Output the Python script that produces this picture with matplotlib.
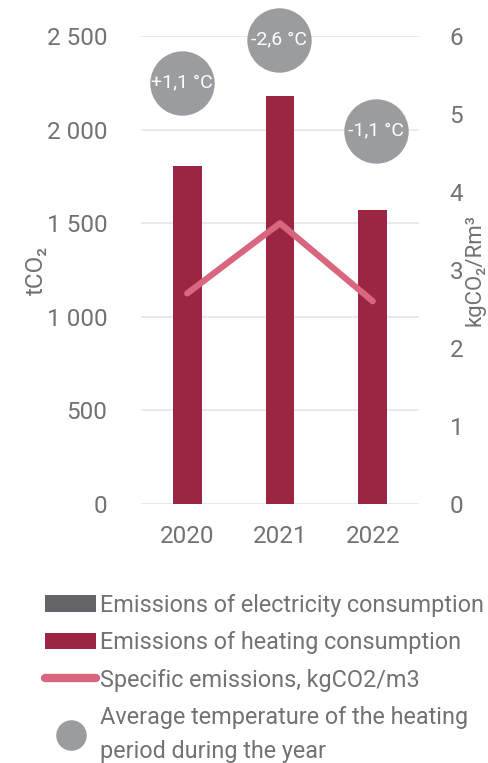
import matplotlib
matplotlib.use("Agg")
import matplotlib.pyplot as plt
from matplotlib.patches import Patch
from matplotlib.lines import Line2D

# data
years = ["2020", "2021", "2022"]
heating_t = [1805, 2180, 1570]          # tCO2, heating consumption
specific_kg = [2.7, 3.6, 2.6]           # kgCO2/Rm3
temp_change = ["+1,1 °C", "-2,6 °C", "-1,1 °C"]

left_ticks = [0, 500, 1000, 1500, 2000, 2500]
left_labels = ["0", "500", "1 000", "1 500", "2 000", "2 500"]
right_ticks = [0, 1, 2, 3, 4, 5, 6]

bar_color = "#9b2542"
elec_color = "#636569"
line_color = "#d9667f"
bubble_color = "#9a9c9f"
text_color = "#707275"
grid_color = "#e8e8e8"

plt.rcParams["font.family"] = ["Roboto", "DejaVu Sans"]
plt.rcParams["font.weight"] = "normal"

fig = plt.figure(figsize=(4.89, 7.63), dpi=100)
ax = fig.add_axes([0.288, 0.3394, 0.569, 0.6134])
ax2 = ax.twinx()

x = list(range(len(years)))
ax.bar(x, heating_t, width=0.31, color=bar_color, zorder=2)
ax.set_xlim(-0.5, 2.5)
ax.set_ylim(0, 2500)
ax.set_yticks(left_ticks)
ax.set_yticklabels(left_labels)
ax.set_xticks(x)
ax.set_xticklabels(years)
ax.grid(axis="y", color=grid_color, linewidth=1.3, zorder=0)
ax.set_axisbelow(True)
ax.tick_params(length=0, labelsize=17.5, labelcolor=text_color, pad=24)
ax.tick_params(axis="x", pad=15)
ax.set_ylabel("tCO₂", fontsize=17.5, color=text_color)
ax.yaxis.set_label_coords(-0.335, 0.5)

ax2.plot(x, specific_kg, color=line_color, linewidth=4.5,
         solid_capstyle="round", solid_joinstyle="round", zorder=3)
ax2.set_ylim(0, 6)
ax2.set_yticks(right_ticks)
ax2.tick_params(length=0, labelsize=17.5, labelcolor=text_color, pad=22)
ax2.set_ylabel("kgCO₂/Rm³", fontsize=16, color=text_color)
ax2.yaxis.set_label_coords(1.165, 0.5)

for a in (ax, ax2):
    for s in a.spines.values():
        s.set_visible(False)

# temperature bubbles above the bars
bubble_x = [-0.06, -0.01, 0.04]
bubble_y = [2250, 2480, 1995]
for i in range(len(years)):
    ax.scatter(x[i] + bubble_x[i], bubble_y[i], s=2150, color=bubble_color,
               zorder=4, clip_on=False, linewidths=0)
    ax.text(x[i] + bubble_x[i], bubble_y[i], temp_change[i], ha="center",
            va="center", fontsize=14, color="white", zorder=5)

handles = [
    Patch(facecolor=elec_color),
    Patch(facecolor=bar_color),
    Line2D([0], [0], color=line_color, linewidth=6, solid_capstyle="round"),
    Line2D([0], [0], marker="o", linestyle="none", markersize=22,
           markerfacecolor=bubble_color, markeredgewidth=0),
]
labels = [
    "Emissions of electricity consumption",
    "Emissions of heating consumption",
    "Specific emissions, kgCO2/m3",
    "Average temperature of the heating\nperiod during the year",
]
leg = fig.legend(handles, labels, loc="upper left", bbox_to_anchor=(0.092, 0.222),
                 frameon=False, fontsize=16.8, handlelength=2.2, handletextpad=0.15,
                 labelspacing=0.62, borderpad=0, borderaxespad=0)
for t in leg.get_texts():
    t.set_color(text_color)
    t.set_linespacing(1.6)

fig.savefig("out.png", dpi=100)
